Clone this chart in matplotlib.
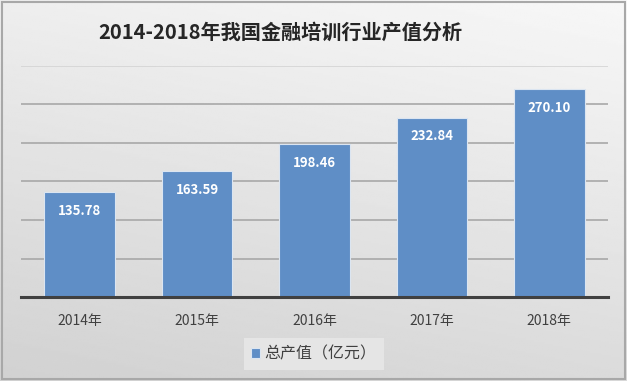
import numpy as np
import matplotlib.pyplot as plt
from matplotlib.patches import Rectangle

plt.rcParams['font.family'] = ['Noto Sans CJK SC', 'DejaVu Sans']

# data
years = ['2014年', '2015年', '2016年', '2017年', '2018年']
values = [135.78, 163.59, 198.46, 232.84, 270.10]
title = '2014-2018年我国金融培训行业产值分析'
series_name = '总产值（亿元）'

fig = plt.figure(figsize=(6.27, 3.81), dpi=100)

# gradient background
bg = fig.add_axes([0, 0, 1, 1], zorder=0)
yy, xx = np.mgrid[0:1:200j, 0:1:300j]
grad = 0.82 + 0.15 * (0.75 * yy + 0.25 * xx)
bg.imshow(grad, cmap='gray', vmin=0, vmax=1, origin='lower',
          extent=[0, 1, 0, 1], aspect='auto')
bg.add_patch(Rectangle((0.003, 0.005), 0.994, 0.99, fill=False,
                       edgecolor='#a8a8a8', lw=1.5, transform=bg.transAxes))
bg.set_axis_off()

ax = fig.add_axes([21 / 627, 1 - 297 / 381, 587 / 627, 231 / 381], zorder=1)
ax.patch.set_alpha(0)

x = np.arange(len(years))
ax.bar(x, values, width=0.6, color='#5f8ec6', edgecolor='#dbe5f1',
       linewidth=0.8, zorder=3, label=series_name)

for xi, v in zip(x, values):
    ax.text(xi, v - 24, f'{v:.2f}', ha='center', va='center', color='white',
            fontsize=9.5, fontweight='bold', zorder=4)

ax.set_xlim(-0.5, len(years) - 0.5)
ax.set_ylim(0, 300)
ax.set_yticks(np.arange(0, 301, 50))
ax.yaxis.grid(True, color='#a8a8a8', lw=1.2, zorder=1)
ax.get_ygridlines()[-1].set_color('#d4d4d4')
ax.tick_params(axis='y', left=False, labelleft=False)
ax.tick_params(axis='x', length=0, pad=12, labelsize=10, labelcolor='#404040')
ax.set_xticks(x)
ax.set_xticklabels(years)
for s in ['top', 'right', 'left']:
    ax.spines[s].set_visible(False)
ax.spines['bottom'].set_color('#404040')
ax.spines['bottom'].set_linewidth(2.2)
ax.spines['bottom'].set_zorder(5)

fig.text(280 / 627, 1 - 32 / 381, title, ha='center', va='center',
         fontsize=14.5, fontweight='bold', color='#262626')

leg = fig.legend(loc='center', bbox_to_anchor=(314 / 627, 1 - 354 / 381),
                 frameon=True, fontsize=11.5, handlelength=0.55, handleheight=0.55,
                 handletextpad=0.3, borderpad=0.45, fancybox=False)
leg.get_frame().set_facecolor('#e8e8e8')
leg.get_frame().set_edgecolor('none')
leg.get_frame().set_alpha(0.85)
for t in leg.get_texts():
    t.set_color('#404040')

fig.savefig('out.png', dpi=100)
